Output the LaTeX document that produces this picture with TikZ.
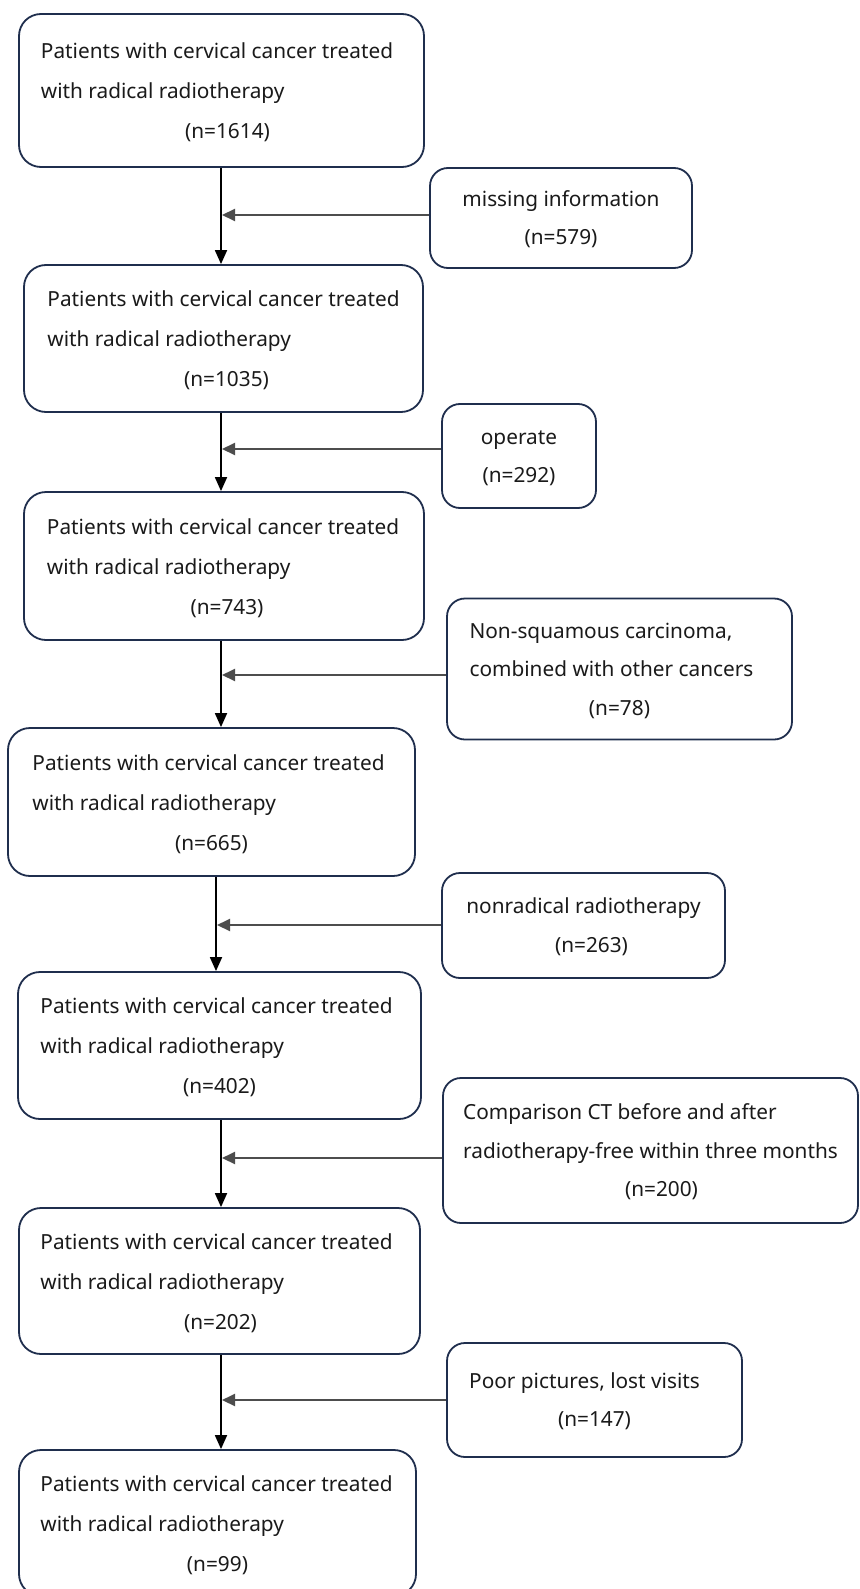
\documentclass[tikz,border=0pt]{standalone}
\usepackage{fontspec}
\setmainfont{Noto Sans}
\usetikzlibrary{arrows.meta}
\definecolor{boxc}{HTML}{1F2E4D}
\definecolor{sidec}{HTML}{4D4D4D}
\definecolor{txtc}{HTML}{1A1A1A}
% #1: extra space right of lines 1-2 (shifts them left by half), #2: space before line 3 (shifts it right by half)
\newcommand{\boxtext}[5]{\begin{tabular}{@{}l@{\hspace{#1}}}#3\\#4\\\multicolumn{1}{@{}c@{}}{\hspace{#2}#5}\end{tabular}}
\newcommand{\twolines}[2]{\begin{tabular}{@{}c@{}}#1\\#2\end{tabular}}
\begin{document}
\begin{tikzpicture}[x=1pt,y=-1pt,
  boxbase/.style={draw=boxc, line width=1.8pt, inner sep=0pt, fill=white, text=txtc,
    font=\fontsize{20.8}{40}\selectfont},
  mainbox/.style={boxbase, rounded corners=22pt},
  sidebox/.style={boxbase, rounded corners=18pt, font=\fontsize{20.8}{38.5}\selectfont},
  mainarrow/.style={draw=black, line width=1.8pt, -{Triangle[length=14pt,width=12pt]}},
  sidearrow/.style={draw=sidec, line width=2pt, -{Triangle[length=13pt,width=12pt]}, shorten >=1pt},
]
\useasboundingbox (0,0) rectangle (859,1589);
\fill[white] (0,0) rectangle (859,1589);

% main boxes
\node[mainbox, minimum width=405pt, minimum height=153pt] (b1) at (221.5,90.5)
  {\boxtext{9pt}{12pt}{Patients with cervical cancer treated}{with radical radiotherapy}{(n=1614)}};
\node[mainbox, minimum width=399pt, minimum height=147pt] (b2) at (223.5,338.5)
  {\boxtext{0pt}{6pt}{Patients with cervical cancer treated}{with radical radiotherapy}{(n=1035)}};
\node[mainbox, minimum width=400pt, minimum height=148pt] (b3) at (224,566)
  {\boxtext{2pt}{6pt}{Patients with cervical cancer treated}{with radical radiotherapy}{(n=743)}};
\node[mainbox, minimum width=407pt, minimum height=148pt] (b4) at (211.5,802)
  {\boxtext{6pt}{0pt}{Patients with cervical cancer treated}{with radical radiotherapy}{(n=665)}};
\node[mainbox, minimum width=403pt, minimum height=147pt] (b5) at (219.5,1045.5)
  {\boxtext{6pt}{0pt}{Patients with cervical cancer treated}{with radical radiotherapy}{(n=402)}};
\node[mainbox, minimum width=401pt, minimum height=146pt] (b6) at (219.5,1281)
  {\boxtext{6pt}{2pt}{Patients with cervical cancer treated}{with radical radiotherapy}{(n=202)}};
\node[mainbox, minimum width=397pt, minimum height=146pt] (b7) at (217.5,1523)
  {\boxtext{2pt}{0pt}{Patients with cervical cancer treated}{with radical radiotherapy}{(n=99)}};

% side boxes
\node[sidebox, minimum width=262pt, minimum height=100pt] (s1) at (561,218)
  {\twolines{missing information}{(n=579)}};
\node[sidebox, minimum width=154pt, minimum height=104pt] (s2) at (519,456)
  {\twolines{operate}{(n=292)}};
\node[sidebox, minimum width=345pt, minimum height=141pt] (s3) at (619.5,669)
  {\boxtext{16pt}{0pt}{Non-squamous carcinoma,}{combined with other cancers}{(n=78)}};
\node[sidebox, minimum width=283pt, minimum height=105pt] (s4) at (583.5,925.5)
  {\twolines{nonradical radiotherapy}{\hspace{16pt}(n=263)}};
\node[sidebox, minimum width=415pt, minimum height=145pt] (s5) at (650.5,1150.5)
  {\boxtext{0pt}{22pt}{Comparison CT before and after}{radiotherapy-free within three months}{(n=200)}};
\node[sidebox, minimum width=295pt, minimum height=114pt] (s6) at (594.5,1400)
  {\twolines{Poor pictures, lost visits\hspace{20pt}\mbox{}}{(n=147)}};

% junctions on the main line
\coordinate (j1) at (221,215);
\coordinate (j2) at (221,449);
\coordinate (j3) at (221,675);
\coordinate (j4) at (216,925);
\coordinate (j5) at (221,1158);
\coordinate (j6) at (221,1400);

% main arrows
\draw[mainarrow] (b1.south -| j1) -- (b2.north -| j1);
\draw[mainarrow] (b2.south -| j2) -- (b3.north -| j2);
\draw[mainarrow] (b3.south -| j3) -- (b4.north -| j3);
\draw[mainarrow] (b4.south -| j4) -- (b5.north -| j4);
\draw[mainarrow] (b5.south -| j5) -- (b6.north -| j5);
\draw[mainarrow] (b6.south -| j6) -- (b7.north -| j6);

% side arrows
\draw[sidearrow] (s1.west |- j1) -- (j1);
\draw[sidearrow] (s2.west |- j2) -- (j2);
\draw[sidearrow] (s3.west |- j3) -- (j3);
\draw[sidearrow] (s4.west |- j4) -- (j4);
\draw[sidearrow] (s5.west |- j5) -- (j5);
\draw[sidearrow] (s6.west |- j6) -- (j6);
\end{tikzpicture}
\end{document}
